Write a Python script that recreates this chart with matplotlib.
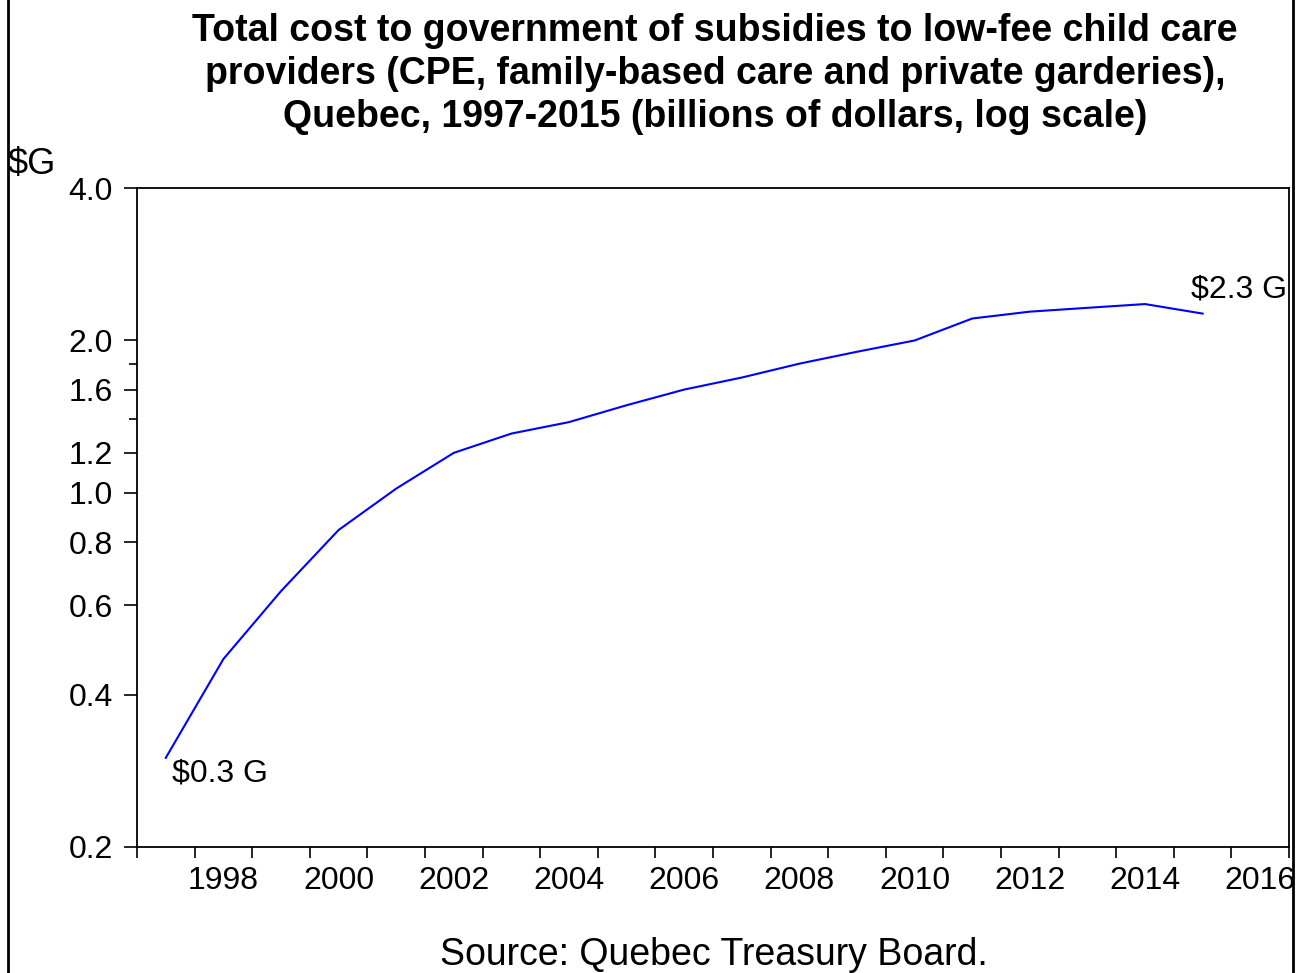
import matplotlib
matplotlib.use("Agg")
import matplotlib.pyplot as plt
from matplotlib.ticker import FixedLocator, NullFormatter, FixedFormatter
from matplotlib.lines import Line2D

years = list(range(1997, 2016))
cost = [0.30, 0.47, 0.64, 0.845, 1.02, 1.20, 1.31, 1.38, 1.49, 1.60, 1.69,
        1.80, 1.90, 2.00, 2.21, 2.28, 2.32, 2.36, 2.26]
ytick_vals = [0.2, 0.4, 0.6, 0.8, 1.0, 1.2, 1.6, 2.0, 4.0]
ytick_labels = ["0.2", "0.4", "0.6", "0.8", "1.0", "1.2", "1.6", "2.0", "4.0"]
yminor_vals = [1.4, 1.8]
xlabel_years = list(range(1998, 2017, 2))
title = ("Total cost to government of subsidies to low-fee child care\n"
         "providers (CPE, family-based care and private garderies),\n"
         "Quebec, 1997-2015 (billions of dollars, log scale)")

plt.rcParams['font.family'] = ['Liberation Sans', 'DejaVu Sans']

W, H = 1297, 973
fig = plt.figure(figsize=(W / 100, H / 100), dpi=100)
ax = fig.add_axes([137 / W, 1 - 847 / H, (1289 - 137) / W, (847 - 188) / H])

ax.plot(years, cost, color=(0, 0, 1), lw=1.5)
ax.set_yscale('log')
ax.set_ylim(0.2, 4.0)
ax.set_xlim(1996.5, 2016.5)

ax.yaxis.set_major_locator(FixedLocator(ytick_vals))
ax.yaxis.set_major_formatter(FixedFormatter(ytick_labels))
ax.yaxis.set_minor_locator(FixedLocator(yminor_vals))
ax.yaxis.set_minor_formatter(NullFormatter())
ax.tick_params(axis='y', which='major', direction='out', length=9.4, width=1.2,
               labelsize=23, pad=8)
ax.tick_params(axis='y', which='minor', direction='out', length=6, width=1.2)

ax.xaxis.set_major_locator(FixedLocator(xlabel_years))
ax.xaxis.set_major_formatter(FixedFormatter([str(y) for y in xlabel_years]))
ax.xaxis.set_minor_locator(FixedLocator([y + 0.5 for y in range(1996, 2017)]))
ax.tick_params(axis='x', which='major', length=0, labelsize=23, pad=14)
ax.tick_params(axis='x', which='minor', direction='out', length=8, width=1.2)

for s in ax.spines.values():
    s.set_linewidth(1.3)
    s.set_color('black')

ax.text(years[0] + 0.1, cost[0] * 0.995, r"\$0.3 G", fontsize=23, ha='left', va='top')
ax.text(years[-1] - 0.2, cost[-1] * 1.04, r"\$2.3 G", fontsize=23, ha='left', va='bottom')

fig.text(715 / W, 1 - 13 / H, title, ha='center', va='top', fontsize=27,
         fontweight='bold', linespacing=1.25)
fig.text(8 / W, 1 - 165 / H, r"\$G", ha='left', va='center', fontsize=26)
fig.text(714 / W, 1 - 955 / H, "Source: Quebec Treasury Board.", ha='center',
         va='center', fontsize=27)

fig.add_artist(Line2D([7.5 / W, 7.5 / W], [0, 1], color='black', lw=2,
                      transform=fig.transFigure))
fig.add_artist(Line2D([1292.5 / W, 1292.5 / W], [0, 1], color='black', lw=2,
                      transform=fig.transFigure))

fig.savefig("out.png", dpi=100)
